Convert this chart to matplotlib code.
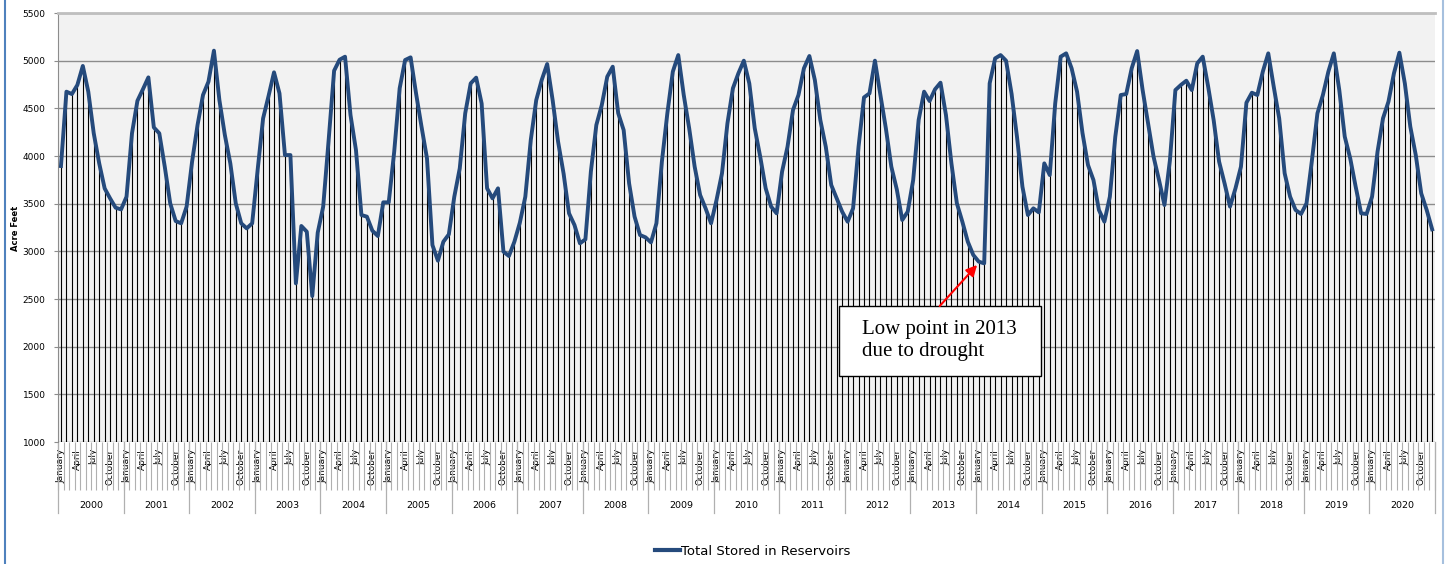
import matplotlib
matplotlib.use("Agg")
import matplotlib.pyplot as plt
import matplotlib.patches as patches
from matplotlib.lines import Line2D
import matplotlib.transforms as mtransforms

# monthly totals (acre feet)
years = list(range(2000, 2021))
y2000 = [3895, 4675, 4650, 4745, 4945, 4675, 4238, 3923, 3660, 3555, 3458, 3440]
y2001 = [3573, 4238, 4580, 4700, 4825, 4300, 4238, 3888, 3503, 3318, 3294, 3469]
y2002 = [3940, 4325, 4640, 4780, 5105, 4587, 4220, 3923, 3503, 3294, 3241, 3294]
y2003 = [3853, 4395, 4630, 4878, 4657, 4010, 4010, 2664, 3266, 3206, 2531, 3196]
y2004 = [3469, 4168, 4895, 5010, 5042, 4430, 4063, 3381, 3364, 3217, 3161, 3514]
y2005 = [3514, 4045, 4710, 5007, 5035, 4657, 4308, 3976, 3066, 2902, 3101, 3178]
y2006 = [3573, 3871, 4448, 4762, 4822, 4552, 3661, 3556, 3661, 2997, 2951, 3101]
y2007 = [3301, 3573, 4168, 4587, 4797, 4965, 4587, 4150, 3818, 3399, 3276, 3084]
y2008 = [3126, 3836, 4325, 4535, 4832, 4937, 4450, 4273, 3713, 3364, 3171, 3147]
y2009 = [3094, 3294, 3941, 4448, 4885, 5059, 4640, 4290, 3888, 3591, 3451, 3294]
y2010 = [3538, 3818, 4343, 4710, 4867, 5000, 4762, 4290, 3993, 3661, 3469, 3399]
y2011 = [3836, 4098, 4483, 4640, 4920, 5049, 4797, 4378, 4098, 3696, 3556, 3416]
y2012 = [3311, 3451, 4098, 4615, 4657, 5000, 4640, 4290, 3888, 3650, 3329, 3416]
y2013 = [3748, 4378, 4675, 4577, 4700, 4769, 4430, 3923, 3503, 3311, 3101, 2962]
y2014 = [2892, 2874, 4762, 5024, 5059, 5000, 4657, 4203, 3678, 3381, 3451, 3409]
y2015 = [3923, 3800, 4552, 5042, 5077, 4920, 4675, 4238, 3906, 3748, 3434, 3311]
y2016 = [3573, 4203, 4640, 4650, 4920, 5101, 4692, 4343, 3993, 3748, 3486, 3958]
y2017 = [4692, 4745, 4790, 4692, 4972, 5042, 4727, 4378, 3941, 3713, 3469, 3661]
y2018 = [3888, 4559, 4664, 4640, 4885, 5077, 4727, 4395, 3818, 3573, 3434, 3392]
y2019 = [3503, 3958, 4448, 4640, 4885, 5077, 4692, 4203, 3976, 3678, 3399, 3392]
y2020 = [3573, 4045, 4395, 4570, 4867, 5084, 4762, 4308, 4010, 3608, 3434, 3231]

yearly = [y2000, y2001, y2002, y2003, y2004, y2005, y2006, y2007, y2008, y2009, y2010,
          y2011, y2012, y2013, y2014, y2015, y2016, y2017, y2018, y2019, y2020]
stored = [v for yr in yearly for v in yr]

month_labels = ["January", "April", "July", "October"]
y_ticks = [1000, 1500, 2000, 2500, 3000, 3500, 4000, 4500, 5000, 5500]

line_color = "#254a7c"
grid_color = "#8c8c8c"

fig = plt.figure(figsize=(14.45, 5.64), dpi=100)
ax = fig.add_axes([0.0403, 0.2163, 0.9527, 0.7606])
ax.set_facecolor("#f2f2f2")

n = len(stored)
xs = list(range(n))

# drop lines from each point to the axis
ax.vlines(xs, 1000, stored, color="black", lw=0.8, zorder=2)
ax.plot(xs, stored, color=line_color, lw=2.8, zorder=4, solid_joinstyle="round")

ax.set_xlim(-0.5, n - 0.5)
ax.set_ylim(1000, 5500)
ax.set_yticks(y_ticks)
ax.yaxis.grid(True, color=grid_color, lw=1.0, zorder=1)
ax.set_axisbelow(True)
ax.tick_params(axis="y", labelsize=6.5, length=3, color=grid_color, pad=6)

for s in ["right", "bottom"]:
    ax.spines[s].set_visible(False)
ax.spines["left"].set_color(grid_color)
ax.spines["top"].set_color("#bfbfbf")
ax.spines["top"].set_linewidth(2)

# month labels at Jan/Apr/Jul/Oct, tick marks between months
major = [i for i in xs if i % 3 == 0]
ax.set_xticks(major)
ax.set_xticklabels([month_labels[(i % 12) // 3] for i in major], rotation=90,
                   fontsize=6.5, va="top")
ax.tick_params(axis="x", which="major", length=0, pad=5)
ax.set_xticks([i - 0.5 for i in range(n + 1)], minor=True)
ax.tick_params(axis="x", which="minor", length=34.5, color="#b0b0b0", width=0.8)

# year row
trans = mtransforms.blended_transform_factory(ax.transData, ax.transAxes)
for k, yr in enumerate(years):
    left = k * 12 - 0.5
    ax.plot([left, left], [0, -0.166], transform=trans, color="#b0b0b0", lw=0.9,
            clip_on=False)
    ax.text(left + 6, -0.148, str(yr), transform=trans, ha="center", va="center",
            fontsize=6.8)
ax.plot([n - 0.5, n - 0.5], [0, -0.166], transform=trans, color="#b0b0b0", lw=0.9,
        clip_on=False)

fig.text(0.0105, 0.595, "Acre Feet", rotation=90, fontsize=6, fontweight="bold",
         ha="center", va="center")

# annotation box
box = patches.Rectangle((0.567, 0.154), 0.1466, 0.163, transform=ax.transAxes,
                        facecolor="white", edgecolor="black", lw=1.0, zorder=6)
ax.add_patch(box)
ax.text(0.5838, 0.284, "Low point in 2013\ndue to drought", transform=ax.transAxes,
        family="Liberation Serif", fontsize=15, va="top", ha="left",
        linespacing=1.2, zorder=7)
low_idx = 14 * 12
ax.annotate("", xy=(low_idx - 0.3, stored[low_idx] - 35), xycoords="data",
            xytext=(0.6403, 0.317), textcoords="axes fraction",
            arrowprops=dict(arrowstyle="-|>", color="red", lw=1.5,
                            mutation_scale=16, shrinkA=0, shrinkB=0),
            zorder=7)

# legend
handle = Line2D([0], [0], color=line_color, lw=3)
fig.legend(handles=[handle], labels=["Total Stored in Reservoirs"], loc="center",
           bbox_to_anchor=(0.521, 0.023), frameon=False, fontsize=9.5,
           handlelength=1.9, handletextpad=0.1)

# chart frame edges
fig.add_artist(Line2D([0.0035, 0.0035], [0, 1], color="#4f81bd", lw=1.5))
fig.add_artist(Line2D([0.9985, 0.9985], [0, 1], color="#a6c0de", lw=1.5))

fig.savefig("out.png", dpi=100)
